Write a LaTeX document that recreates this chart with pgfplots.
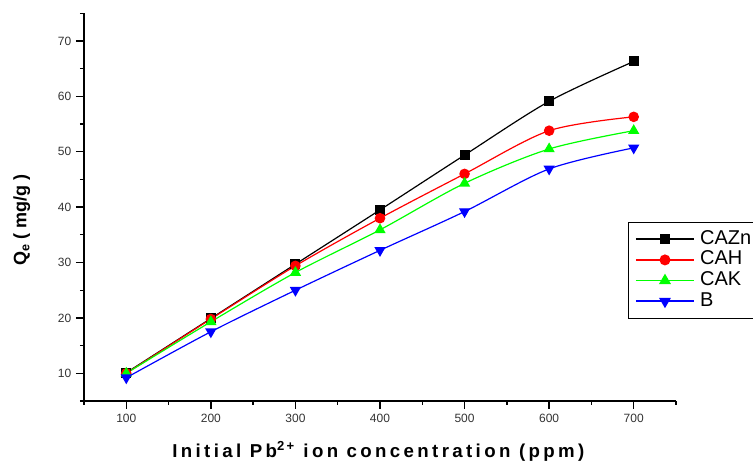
\documentclass[border=0pt]{standalone}
\usepackage{fontspec}
\setmainfont{Liberation Sans}
\usepackage{pgfplots}
\pgfplotsset{compat=1.18}

\begin{document}
\begin{tikzpicture}
\begin{axis}[
  width=444pt, height=290.8pt, scale only axis,
  xmin=50, xmax=750, ymin=5, ymax=75,
  axis lines=left,
  x axis line style={-, line width=1pt},
  y axis line style={-, line width=2pt},
  xtick={100,200,...,700}, minor xtick={50,150,...,750},
  ytick={10,20,...,70}, minor ytick={5,15,...,75},
  tick align=outside,
  major tick length=6pt, minor tick length=3pt,
  tick style={black, line width=1pt},
  tick label style={font=\fontsize{9}{10}\selectfont, text=black!80},
  /pgf/number format/assume math mode=true,
  xlabel={\textbf{Initial Pb\textsuperscript{2+} ion concentration (ppm)}},
  ylabel={\textbf{Q\textsubscript{e} ( mg/g )}},
  every axis x label/.style={at={(axis description cs:0.5,-0.13)}, anchor=center,
    font=\fontsize{14}{16}\selectfont\addfontfeature{LetterSpace=18}},
  every axis y label/.style={at={(axis description cs:-0.105,0.467)}, anchor=center, rotate=90,
    font=\fontsize{13.5}{16}\selectfont},
  legend style={at={(axis description cs:0.919,0.462)}, anchor=north west,
    draw=black, line width=0.6pt, font=\fontsize{15}{16}\selectfont,
    inner sep=5pt, row sep=0pt,
    nodes={inner sep=1pt, text height=10.5pt, text depth=3pt},
    /tikz/every odd column/.append style={column sep=3pt}},
  legend cell align=left,
  legend image code/.code={\draw[mark repeat=2,mark phase=2,#1,line width=1.2pt] plot coordinates {(0pt,0pt) (21.8pt,0pt) (43.6pt,0pt)};},
]
\addplot[black, line width=0.9pt, smooth, mark=square*, mark size=3.3pt, mark options={solid}]
  coordinates {(100,10.1) (200,19.9) (300,29.7) (400,39.5) (500,49.4) (600,59.1) (700,66.3)};
\addlegendentry{CAZn}
\addplot[red, line width=0.9pt, smooth, mark=*, mark size=3.5pt, mark options={solid}]
  coordinates {(100,10) (200,19.8) (300,29.4) (400,38) (500,46) (600,53.8) (700,56.3)};
\addlegendentry{CAH}
\addplot[green, line width=0.9pt, smooth, mark=triangle*, mark size=4pt, mark options={solid}]
  coordinates {(100,10) (200,19.3) (300,28.2) (400,35.9) (500,44.3) (600,50.5) (700,53.8)};
\addlegendentry{CAK}
\addplot[blue, line width=0.9pt, smooth, mark=triangle*, mark size=4pt, mark options={solid, rotate=180}]
  coordinates {(100,9.2) (200,17.5) (300,25) (400,32.2) (500,39.2) (600,46.9) (700,50.7)};
\addlegendentry{B}
\end{axis}
\pgfresetboundingbox
\path (-63pt,-46.5pt) rectangle (501.75pt,300.75pt);
\end{tikzpicture}
\end{document}
